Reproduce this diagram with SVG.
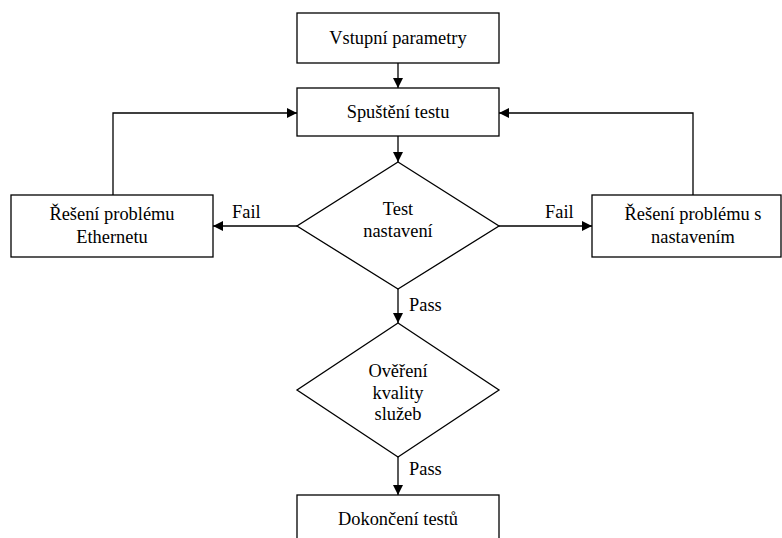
<svg xmlns="http://www.w3.org/2000/svg" width="782" height="538" viewBox="0 0 782 538">
<style>
.n{fill:#fff;stroke:#000;stroke-width:1.3}
.c{fill:none;stroke:#000;stroke-width:1.3}
text{font-family:'Liberation Serif','Times New Roman',serif;font-size:18.4px;fill:#000;text-anchor:middle}
.l{text-anchor:start}
</style>
<defs>
<marker id="a" viewBox="0 0 10 10" refX="10" refY="5" markerWidth="10" markerHeight="10" markerUnits="userSpaceOnUse" orient="auto">
<path d="M0,0 L10,5 L0,10 Z" fill="#000"/>
</marker>
</defs>
<rect width="782" height="538" fill="#fff"/>
<g id="connectors">
<line class="c" x1="398" y1="63" x2="398" y2="88" marker-end="url(#a)"/>
<line class="c" x1="398" y1="136" x2="398" y2="162" marker-end="url(#a)"/>
<line class="c" x1="297" y1="226" x2="213" y2="226" marker-end="url(#a)"/>
<line class="c" x1="499" y1="226" x2="592" y2="226" marker-end="url(#a)"/>
<polyline class="c" points="113,195 113,113 297,113" marker-end="url(#a)"/>
<polyline class="c" points="693,195 693,113 499,113" marker-end="url(#a)"/>
<line class="c" x1="398" y1="289" x2="398" y2="323" marker-end="url(#a)"/>
<line class="c" x1="398" y1="457" x2="398" y2="495" marker-end="url(#a)"/>
<text class="l" x="232" y="218">Fail</text>
<text class="l" x="545" y="218">Fail</text>
<text class="l" x="409" y="311">Pass</text>
<text class="l" x="409" y="475">Pass</text>
</g>
<g id="vstup">
<rect class="n" x="297" y="13" width="202" height="50"/>
<text x="398" y="44">Vstupní parametry</text>
</g>
<g id="spusteni">
<rect class="n" x="297" y="88" width="202" height="48"/>
<text x="398" y="118">Spuštění testu</text>
</g>
<g id="test">
<polygon class="n" points="398,162 499,226 398,289 297,226"/>
<text x="398" y="215">Test</text>
<text x="398" y="237">nastavení</text>
</g>
<g id="ethernet">
<rect class="n" x="11" y="195" width="202" height="62"/>
<text x="112" y="220">Řešení problému</text>
<text x="112" y="243">Ethernetu</text>
</g>
<g id="nastaveni">
<rect class="n" x="592" y="195" width="189" height="62"/>
<text x="693" y="220">Řešení problému s</text>
<text x="693" y="243">nastavením</text>
</g>
<g id="overeni">
<polygon class="n" points="398,323 499,390 398,457 297,390"/>
<text x="398" y="377">Ověření</text>
<text x="398" y="399">kvality</text>
<text x="398" y="420">služeb</text>
</g>
<g id="dokonceni">
<rect class="n" x="297" y="495" width="202" height="60"/>
<text x="398" y="525">Dokončení testů</text>
</g>
</svg>
